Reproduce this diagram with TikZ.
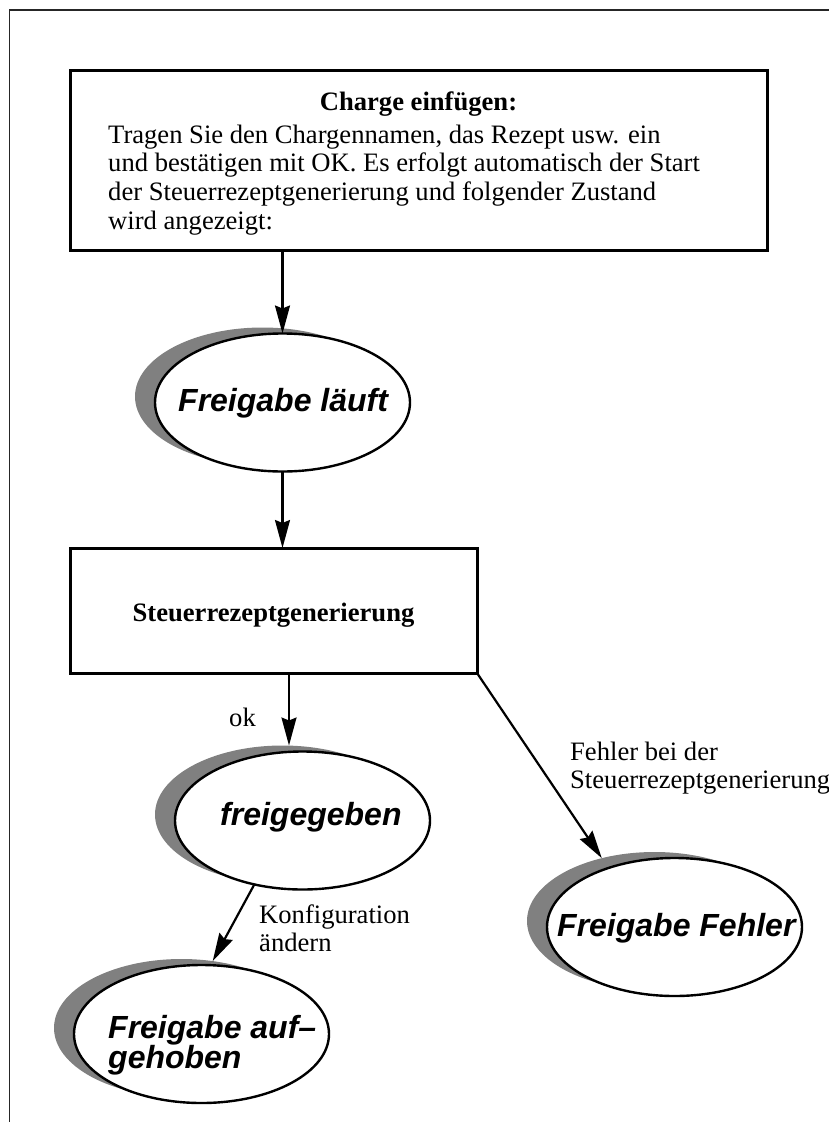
\documentclass[tikz,border=0pt]{standalone}
\usepackage{fontspec}
\setmainfont{Liberation Serif}
\setsansfont{Liberation Sans}
\usetikzlibrary{shapes.geometric,arrows.meta}
\definecolor{shadowgray}{RGB}{128,128,128}
\begin{document}
\begin{tikzpicture}[x=1pt,y=-1pt,
  frameline/.style={line width=1.8pt, black!85},
  stepbox/.style={draw, rectangle, line width=3pt, inner sep=0pt, outer sep=0pt},
  statebody/.style={ellipse, draw, fill=white, line width=2.4pt,
    minimum width=255pt, minimum height=138pt, inner sep=0pt, outer sep=0pt},
  stateshadow/.style={ellipse, fill=shadowgray,
    minimum width=255pt, minimum height=138pt, inner sep=0pt, outer sep=0pt},
  statetext/.style={font=\sffamily\bfseries\itshape\fontsize{32}{30}\selectfont,
    inner sep=0pt, anchor=base west, align=left},
  bodytext/.style={font=\fontsize{26.6}{28.7}\selectfont,
    inner sep=0pt, anchor=base west, align=left},
  titletext/.style={font=\bfseries\fontsize{26.6}{28.7}\selectfont,
    inner sep=0pt, anchor=base},
  flow/.style={-{Stealth[length=28pt,width=15pt,inset=3pt]}, line width=2.2pt}]

\useasboundingbox (0,0) rectangle (829,1122);

% page frame (top and left edge only)
\draw[frameline] (829,10) -- (9.5,10) -- (9.5,1122);

% --- step: insert batch ---
% (multi-line nodes are placed by the baseline of their last line)
\node[stepbox, minimum width=697pt, minimum height=180pt] (insert) at (418.5,160.5) {};
\node[titletext] (inserttitle) at (418.5,110) {Charge einfügen:};
\node[bodytext] (insertbody) at (108,229.1)
  {Tragen Sie den Chargennamen, das Rezept usw. ein\\
   und bestätigen mit OK. Es erfolgt automatisch der Start\\
   der Steuerrezeptgenerierung und folgender Zustand\\
   wird angezeigt:};

% --- state: release running ---
\node[stateshadow] (runsh) at (262.5,396.5) {};
\node[statebody]   (run)   at (282.5,402.5) {};
\node[statetext]   (runtxt) at (178,411.7) {Freigabe läuft};

% --- step: control recipe generation ---
\node[stepbox, minimum width=407pt, minimum height=125pt] (gen) at (273.5,610.5) {};
\node[titletext] (gentxt) at (273.5,621) {Steuerrezeptgenerierung};

% --- state: released ---
\node[stateshadow] (relsh) at (282.5,814.5) {};
\node[statebody]   (rel)   at (302.5,820.5) {};
\node[statetext]   (reltxt) at (220,825) {freigegeben};

% --- state: release error ---
\node[stateshadow] (errsh) at (654.5,921) {};
\node[statebody]   (err)   at (674.5,927) {};
\node[statetext]   (errtxt) at (557,936.7) {Freigabe Fehler};

% --- state: release cancelled ---
\node[stateshadow] (cansh) at (181.5,1028) {};
\node[statebody]   (can)   at (201.5,1034) {};
\node[statetext]   (cantxt) at (108,1068.3) {Freigabe auf–\\gehoben};

% --- transitions ---
\draw[flow] (insert.south -| run.north) -- (run.north);
\draw[flow] (run.south) -- (run.south |- gen.north);
\coordinate (okfoot) at ([xshift=15.5pt]gen.south);
\draw[flow] (okfoot) -- (okfoot |- relsh.north);
\draw[flow] (rel.233) -- (cansh.65.5);
\draw[flow] (gen.south east) -- (errsh.130.4);

% --- transition labels ---
\node[bodytext, anchor=base east] (lok) at (256,726) {ok};
\node[bodytext] (lconf) at (259,951.7) {Konfiguration\\ändern};
\node[bodytext] (lerr) at (570,788.7) {Fehler bei der\\Steuerrezeptgenerierung};

\end{tikzpicture}
\end{document}
